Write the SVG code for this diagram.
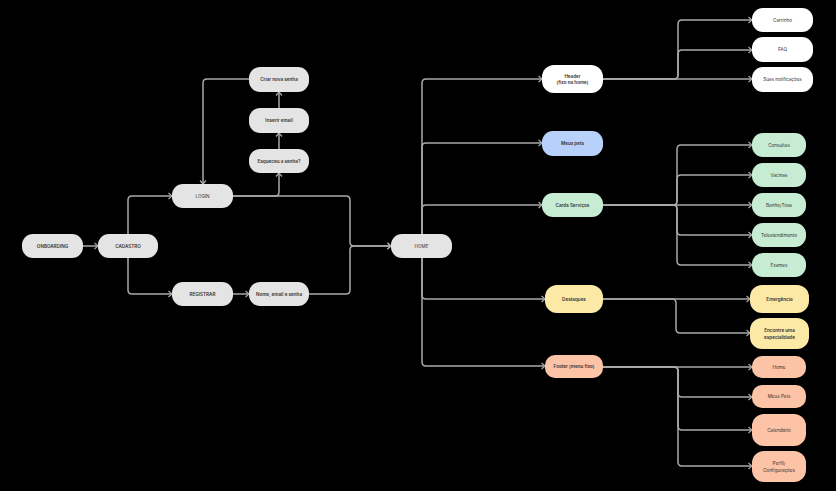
<svg xmlns="http://www.w3.org/2000/svg" width="836" height="491" viewBox="0 0 836 491">
<defs>
<marker id="arr" markerWidth="6" markerHeight="8" refX="4.5" refY="4" orient="auto" markerUnits="userSpaceOnUse">
<path d="M1,1 L4.5,4 L1,7" fill="none" stroke="#a9a9a9" stroke-width="1.2"/>
</marker>
<style>
.c{fill:none;stroke:#a9a9a9;stroke-width:1.5;marker-end:url(#arr)}
.n{stroke:none}
.g{fill:#e4e4e4}.w{fill:#ffffff}.b{fill:#b8d1fa}.gr{fill:#c6edd3}.y{fill:#fde9a6}.s{fill:#fdc3a7}
text{font-family:Inter,"Liberation Sans",sans-serif;font-size:4.6px;fill:#333;text-anchor:middle;dominant-baseline:central}
.bd{font-weight:600}
</style>
</defs>
<rect width="836" height="491" fill="#000"/>
<g id="connectors">
<path class="c" d="M82,246 H98"/>
<path class="c" d="M128,234 V200 Q128,196 132,196 H172"/>
<path class="c" d="M128,258 V290 Q128,294 132,294 H172"/>
<path class="c" d="M233,294 H249"/>
<path class="c" d="M233,196 H275 Q279,196 279,192 V173"/>
<path class="c" d="M279,149 V133"/>
<path class="c" d="M279,108 V92"/>
<path class="c" d="M249,79 H207 Q203,79 203,83 V184"/>
<path class="c" d="M233,196 H346 Q350,196 350,200 V242 Q350,246 354,246 H391"/>
<path class="c" d="M309,294 H346 Q350,294 350,290 V250 Q350,246 354,246 H391"/>
<path class="c" d="M422,234 V83 Q422,79 426,79 H542"/>
<path class="c" d="M422,234 V147 Q422,143 426,143 H542"/>
<path class="c" d="M422,234 V209 Q422,205 426,205 H542"/>
<path class="c" d="M422,258 V295 Q422,299 426,299 H545"/>
<path class="c" d="M422,258 V362 Q422,366 426,366 H545"/>
<path class="c" d="M603,79 H752"/>
<path class="c" d="M603,79 H674 Q678,79 678,75 V54 Q678,50 682,50 H752"/>
<path class="c" d="M603,79 H674 Q678,79 678,75 V24 Q678,20 682,20 H752"/>
<path class="c" d="M603,205 H673 Q677,205 677,201 V149 Q677,145 681,145 H752"/>
<path class="c" d="M603,205 H673 Q677,205 677,201 V179 Q677,175 681,175 H752"/>
<path class="c" d="M603,205 H752"/>
<path class="c" d="M603,205 H673 Q677,205 677,209 V231 Q677,235 681,235 H752"/>
<path class="c" d="M603,205 H673 Q677,205 677,209 V261 Q677,265 681,265 H752"/>
<path class="c" d="M603,299 H750"/>
<path class="c" d="M603,299 H672 Q676,299 676,303 V329 Q676,333 680,333 H750"/>
<path class="c" d="M603,367 H752"/>
<path class="c" d="M603,367 H674 Q678,367 678,371 V393 Q678,397 682,397 H752"/>
<path class="c" d="M603,367 H674 Q678,367 678,371 V426 Q678,430 682,430 H752"/>
<path class="c" d="M603,367 H674 Q678,367 678,371 V462 Q678,466 682,466 H752"/>
</g>
<g id="onboarding"><rect class="n g" x="22" y="234" width="61" height="24" rx="11"/><text class="bd" x="52.5" y="246">ONBOARDING</text></g>
<g id="cadastro"><rect class="n g" x="98" y="234" width="60" height="24" rx="11"/><text class="bd" x="128" y="246">CADASTRO</text></g>
<g id="login"><rect class="n g" x="172" y="184" width="61" height="24" rx="11"/><text x="202.5" y="196">LOGIN</text></g>
<g id="registrar"><rect class="n g" x="172" y="282" width="61" height="24" rx="11"/><text class="bd" x="202.5" y="294">REGISTRAR</text></g>
<g id="nome"><rect class="n g" x="249" y="282" width="60" height="24" rx="11"/><text class="bd" x="279" y="294">Nome, email e senha</text></g>
<g id="esqueceu"><rect class="n g" x="249" y="149" width="60" height="24" rx="11"/><text class="bd" x="279" y="161">Esqueceu a senha?</text></g>
<g id="inserir"><rect class="n g" x="249" y="108" width="60" height="25" rx="11"/><text class="bd" x="279" y="120.5">Inserir email</text></g>
<g id="criar"><rect class="n g" x="249" y="67" width="60" height="25" rx="11"/><text class="bd" x="279" y="79.5">Criar nova senha</text></g>
<g id="home"><rect class="n g" x="391" y="234" width="61" height="24" rx="11"/><text x="421.5" y="246">HOME</text></g>
<g id="header"><rect class="n w" x="542" y="65" width="61" height="28" rx="12"/><text class="bd" x="572.5" y="76">Header</text><text class="bd" x="572.5" y="82.5">(fixo na home)</text></g>
<g id="meuspets"><rect class="n b" x="542" y="131" width="61" height="25" rx="11"/><text class="bd" x="572.5" y="143.5">Meus pets</text></g>
<g id="cards"><rect class="n gr" x="542" y="193" width="61" height="24" rx="11"/><text class="bd" x="572.5" y="205">Cards Serviços</text></g>
<g id="destaques"><rect class="n y" x="545" y="285" width="58" height="28" rx="12"/><text class="bd" x="574" y="299">Destaques</text></g>
<g id="footer"><rect class="n s" x="545" y="355" width="58" height="23" rx="10"/><text class="bd" x="574" y="366.5">Footer (menu fixo)</text></g>
<g id="carrinho"><rect class="n w" x="752" y="8" width="61" height="24" rx="11"/><text x="782.5" y="20">Carrinho</text></g>
<g id="faq"><rect class="n w" x="752" y="37" width="61" height="25" rx="11"/><text x="782.5" y="49.5">FAQ</text></g>
<g id="notif"><rect class="n w" x="752" y="67" width="61" height="25" rx="11"/><text x="782.5" y="79.5">Suas notificações</text></g>
<g id="consultas"><rect class="n gr" x="752" y="133" width="54" height="24" rx="11"/><text x="779" y="145">Consultas</text></g>
<g id="vacinas"><rect class="n gr" x="752" y="163" width="54" height="24" rx="11"/><text x="779" y="175">Vacinas</text></g>
<g id="banho"><rect class="n gr" x="752" y="193" width="54" height="24" rx="11"/><text x="779" y="205">Banho/Tosa</text></g>
<g id="tele"><rect class="n gr" x="752" y="223" width="54" height="24" rx="11"/><text x="779" y="235">Teleatendimento</text></g>
<g id="exames"><rect class="n gr" x="752" y="253" width="54" height="24" rx="11"/><text x="779" y="265">Exames</text></g>
<g id="emergencia"><rect class="n y" x="750" y="285" width="59" height="28" rx="12"/><text class="bd" x="779.5" y="299">Emergência</text></g>
<g id="encontre"><rect class="n y" x="750" y="318" width="59" height="31" rx="12"/><text class="bd" x="779.5" y="330">Encontre uma</text><text class="bd" x="779.5" y="337">especialidade</text></g>
<g id="fhome"><rect class="n s" x="752" y="356" width="54" height="22" rx="10"/><text x="779" y="367">Home</text></g>
<g id="fpets"><rect class="n s" x="752" y="385" width="54" height="23" rx="10"/><text x="779" y="396.5">Meus Pets</text></g>
<g id="calendario"><rect class="n s" x="752" y="414" width="54" height="32" rx="12"/><text x="779" y="430">Calendário</text></g>
<g id="perfil"><rect class="n s" x="752" y="451" width="54" height="31" rx="12"/><text x="779" y="463">Perfil/</text><text x="779" y="470">Configurações</text></g>
</svg>
